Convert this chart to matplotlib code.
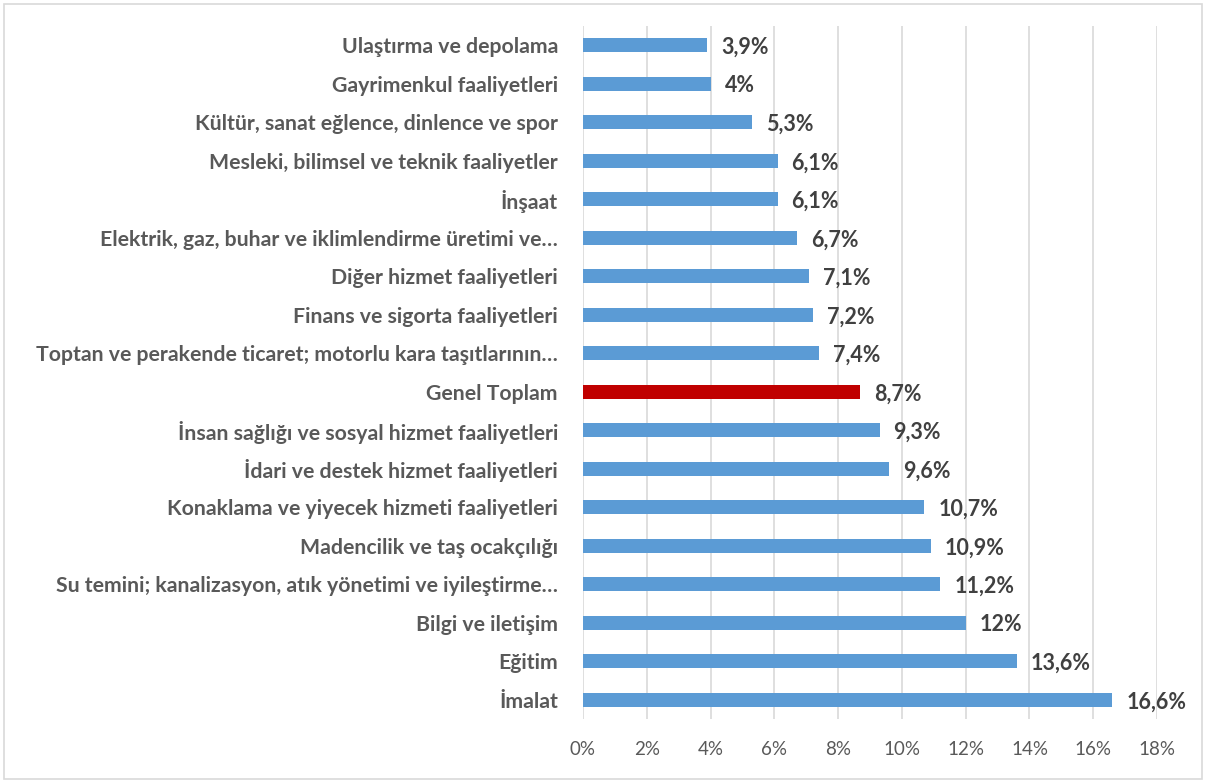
import matplotlib
matplotlib.use("Agg")
import matplotlib.pyplot as plt
from matplotlib.patches import Rectangle
from matplotlib.ticker import FuncFormatter, MultipleLocator

categories = [
    "Ulaştırma ve depolama",
    "Gayrimenkul faaliyetleri",
    "Kültür, sanat eğlence, dinlence ve spor",
    "Mesleki, bilimsel ve teknik faaliyetler",
    "İnşaat",
    "Elektrik, gaz, buhar ve iklimlendirme üretimi ve…",
    "Diğer hizmet faaliyetleri",
    "Finans ve sigorta faaliyetleri",
    "Toptan ve perakende ticaret; motorlu kara taşıtlarının…",
    "Genel Toplam",
    "İnsan sağlığı ve sosyal hizmet faaliyetleri",
    "İdari ve destek hizmet faaliyetleri",
    "Konaklama ve yiyecek hizmeti faaliyetleri",
    "Madencilik ve taş ocakçılığı",
    "Su temini; kanalizasyon, atık yönetimi ve iyileştirme…",
    "Bilgi ve iletişim",
    "Eğitim",
    "İmalat",
]
values = [3.9, 4.0, 5.3, 6.1, 6.1, 6.7, 7.1, 7.2, 7.4, 8.7, 9.3, 9.6, 10.7, 10.9, 11.2, 12.0, 13.6, 16.6]
value_labels = ["3,9%", "4%", "5,3%", "6,1%", "6,1%", "6,7%", "7,1%", "7,2%", "7,4%", "8,7%",
                "9,3%", "9,6%", "10,7%", "10,9%", "11,2%", "12%", "13,6%", "16,6%"]
highlight = "Genel Toplam"

BLUE = "#5B9BD5"
RED = "#C00000"
TEXT = "#595959"

plt.rcParams['font.family'] = ['Lato', 'DejaVu Sans']

fig = plt.figure(figsize=(12.06, 7.83), dpi=100)
ax = fig.add_axes([0.4834, 0.0817, 0.9594 - 0.4834, 0.9668 - 0.0817])

ypos = list(range(len(categories)))
colors = [RED if c == highlight else BLUE for c in categories]
ax.barh(ypos, values, height=0.37, color=colors, zorder=3)

for y, v, lab in zip(ypos, values, value_labels):
    ax.annotate(lab, (v, y), xytext=(14, -2), textcoords="offset pixels",
                ha="left", va="center", fontsize=15.5, fontweight="bold", color="#404040")

ax.set_yticks(ypos)
ax.set_yticklabels(categories, fontsize=15.3, fontweight="bold", color=TEXT)
ax.set_ylim(len(categories) - 0.5, -0.5)
ax.set_xlim(0, 18)
ax.xaxis.set_major_locator(MultipleLocator(2))
ax.xaxis.set_major_formatter(FuncFormatter(lambda x, p: f"{int(round(x))}%"))
ax.tick_params(axis="x", labelsize=13.5, colors=TEXT, length=0, pad=16)
ax.tick_params(axis="y", length=0, pad=18)
ax.grid(axis="x", color="#D9D9D9", linewidth=1.2, zorder=0)
for s in ax.spines.values():
    s.set_visible(False)

fig.patches.append(Rectangle((4 / 1206, 4 / 783), 1 - 8 / 1206, 1 - 8 / 783,
                             transform=fig.transFigure, fill=False,
                             edgecolor="#D9D9D9", linewidth=1.2))

fig.savefig("out.png", dpi=100)
